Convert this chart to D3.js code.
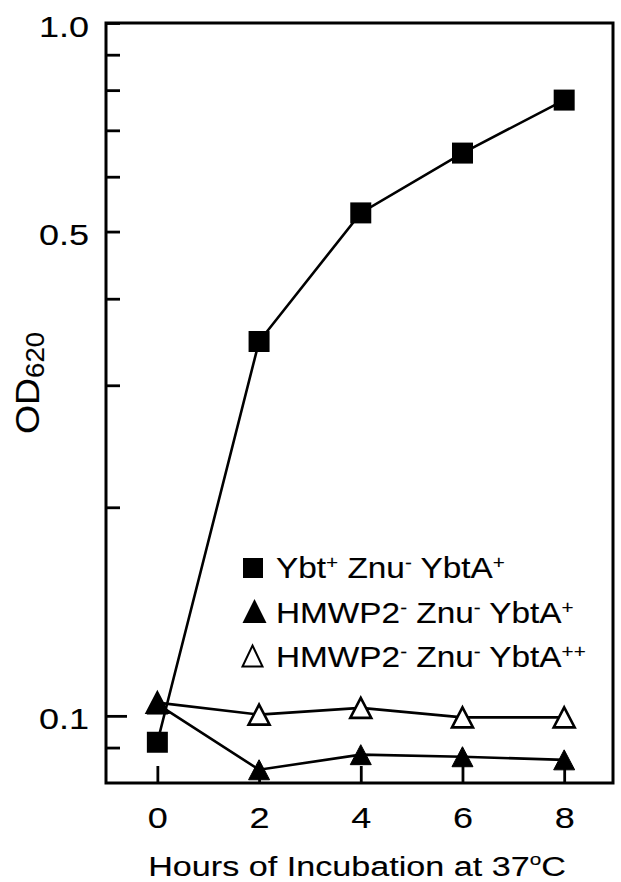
<!DOCTYPE html>
<html>
<head>
<meta charset="utf-8">
<script src="https://cdn.jsdelivr.net/npm/d3@7"></script>
<style>
  html, body { margin: 0; padding: 0; background: #fff; }
  svg { display: block; font-family: "Liberation Sans", Arial, sans-serif; }
  text { stroke: #000; stroke-width: 0.12px; }
</style>
</head>
<body>
<svg id="chart"></svg>
<script>
// data
const hours = [0, 2, 4, 6, 8];
const ybtZnuYbtA = [0.0916, 0.347, 0.532, 0.649, 0.774];
const hmwpZnuYbtA = [0.104, 0.0836, 0.0879, 0.0873, 0.0864];
const hmwpZnuYbtAA = [0.1045, 0.1004, 0.1027, 0.0995, 0.0995];

const yTickValues = [0.09, 0.1, 0.2, 0.3, 0.4, 0.5, 0.6, 0.7, 0.8, 0.9, 1.0];
const yTickLabels = [0.1, 0.5, 1.0];

// legend labels: [text, superscript] pieces
const legendLabels = [
  [["Ybt", "+"], [" Znu", "-"], [" YbtA", "+"]],
  [["HMWP2", "-"], [" Znu", "-"], [" YbtA", "+"]],
  [["HMWP2", "-"], [" Znu", "-"], [" YbtA", "++"]],
];

const width = 621;
const height = 882;
const margin = { top: 23, right: 8, bottom: 99, left: 106 };
const stretch = 1.2;

const svg = d3.select("#chart").attr("width", width).attr("height", height);

const x = d3
  .scaleLinear()
  .domain([-1.01, 8.96])
  .range([margin.left, width - margin.right]);
const y = d3
  .scaleLog()
  .domain([0.08, 1.0])
  .range([height - margin.bottom, margin.top]);

// y axis, ticks pointing inwards
svg
  .append("g")
  .attr("transform", `translate(${margin.left},0)`)
  .call(
    d3
      .axisLeft(y)
      .tickValues(yTickValues)
      .tickSize(-14)
      .tickFormat((d) => (yTickLabels.includes(d) ? d3.format(".1f")(d) : ""))
  )
  .call((g) => g.select(".domain").remove())
  .call((g) =>
    g
      .selectAll(".tick line")
      .attr("stroke", "#000")
      .attr("stroke-width", 2.8)
      .attr("x2", (d) => (d === 0.1 ? 21 : 14))
  )
  .call((g) =>
    g
      .selectAll(".tick text")
      .attr("x", null)
      .attr("dy", null)
      .attr("fill", "#000")
      .attr("font-size", 30)
      .attr("text-anchor", "end")
      .attr("transform", `translate(-17,13) scale(${stretch},1)`)
  );

// x axis
svg
  .append("g")
  .attr("transform", `translate(0,${height - margin.bottom})`)
  .call(d3.axisBottom(x).tickValues(hours).tickSize(-17))
  .call((g) => g.select(".domain").remove())
  .call((g) =>
    g.selectAll(".tick line").attr("stroke", "#000").attr("stroke-width", 2.8)
  )
  .call((g) =>
    g
      .selectAll(".tick text")
      .attr("y", null)
      .attr("dy", null)
      .attr("fill", "#000")
      .attr("font-size", 30)
      .attr("transform", `translate(0,45) scale(${stretch},1)`)
  );

// frame
svg
  .append("rect")
  .attr("x", margin.left)
  .attr("y", margin.top)
  .attr("width", width - margin.left - margin.right)
  .attr("height", height - margin.top - margin.bottom)
  .attr("fill", "none")
  .attr("stroke", "#000")
  .attr("stroke-width", 3);

const series = [
  { values: hmwpZnuYbtAA, shape: "tri", fill: "#fff" },
  { values: hmwpZnuYbtA, shape: "tri", fill: "#000" },
  { values: ybtZnuYbtA, shape: "square", fill: "#000" },
];

const line = d3
  .line()
  .x((d) => x(d[0]))
  .y((d) => y(d[1]));

svg
  .append("g")
  .selectAll("path")
  .data(series)
  .join("path")
  .attr("d", (s) => line(d3.zip(hours, s.values)))
  .attr("fill", "none")
  .attr("stroke", "#000")
  .attr("stroke-width", 2.6);

const triPath = (w, h) => `M0,${-h / 2}L${w / 2},${h / 2}L${-w / 2},${h / 2}Z`;

series.forEach((s) => {
  const pts = svg
    .append("g")
    .selectAll("path")
    .data(d3.zip(hours, s.values))
    .join("path")
    .attr("transform", (d) => `translate(${x(d[0])},${y(d[1])})`)
    .attr("fill", s.fill)
    .attr("stroke", "#000");
  if (s.shape === "square") {
    pts.attr("d", "M-10.5,-10.5h21v21h-21Z").attr("stroke-width", 0);
  } else {
    pts
      .attr("d", triPath(21, 20))
      .attr("stroke-width", s.fill === "#fff" ? 2.6 : 1)
      .attr("stroke-linejoin", "miter");
  }
});

// legend
const legend = svg.append("g");
const legendBase = [578, 623, 667];
legend
  .append("path")
  .attr("d", "M243,558h20v20h-20Z")
  .attr("fill", "#000");
legend
  .append("path")
  .attr("transform", "translate(254.5,611)")
  .attr("d", triPath(24, 24))
  .attr("fill", "#000");
legend
  .append("path")
  .attr("transform", "translate(252.5,656)")
  .attr("d", triPath(20, 21))
  .attr("fill", "#fff")
  .attr("stroke", "#000")
  .attr("stroke-width", 2);

legendLabels.forEach((parts, i) => {
  const t = legend
    .append("text")
    .attr("font-size", 29)
    .attr("transform", `translate(276,${legendBase[i]}) scale(1.15,1)`);
  parts.forEach(([txt, sup], j) => {
    t.append("tspan").attr("dy", j === 0 ? 0 : 9).text(txt);
    t.append("tspan").attr("font-size", 18).attr("dy", -9).text(sup);
  });
});

// axis titles
const xt = svg
  .append("text")
  .attr("font-size", 28)
  .attr("text-anchor", "middle")
  .attr("transform", `translate(357,876) scale(1.22,1)`);
xt.append("tspan").text("Hours of Incubation at 37");
xt.append("tspan").attr("font-size", 17).attr("dy", -11).text("o");
xt.append("tspan").attr("dy", 11).text("C");

const yt = svg
  .append("text")
  .attr("font-size", 34)
  .attr("transform", "translate(39,434) rotate(-90) scale(1.1,1)");
yt.append("tspan").text("OD");
yt.append("tspan").attr("font-size", 25).attr("dy", 5).text("620");
</script>
</body>
</html>
